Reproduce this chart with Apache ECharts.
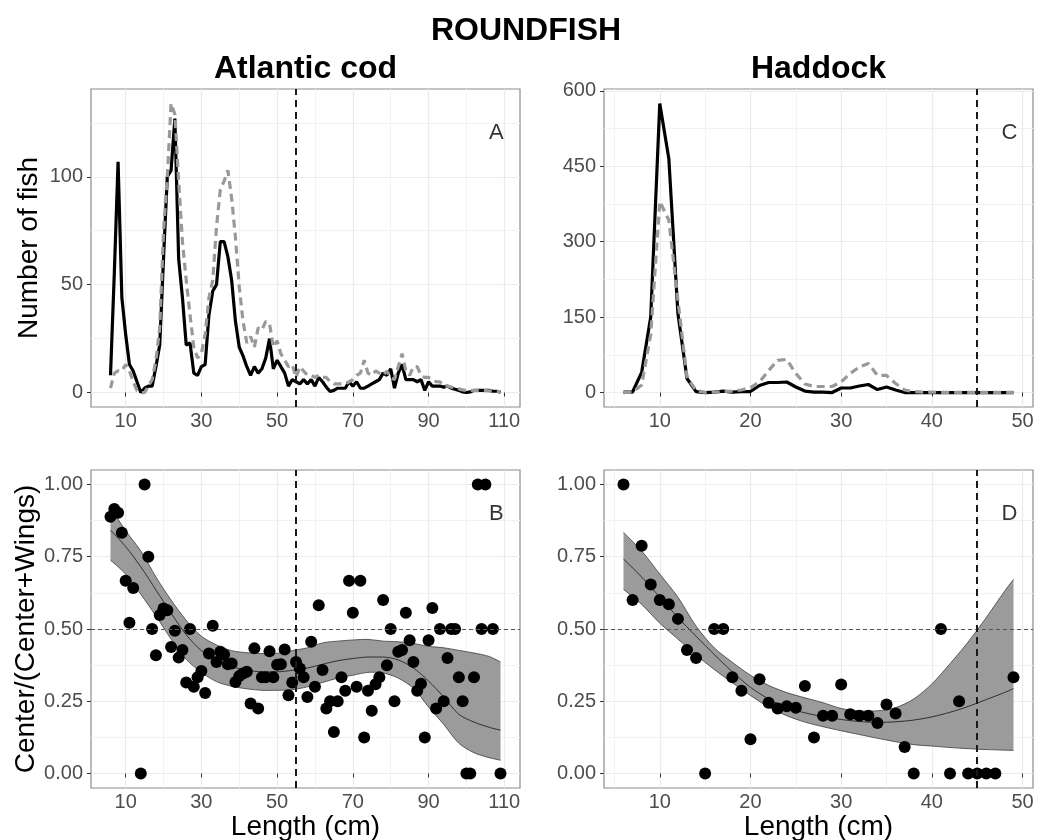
<!DOCTYPE html>
<html><head><meta charset="utf-8">
<script src="https://cdn.jsdelivr.net/npm/echarts@6/dist/echarts.min.js"></script>
<style>html,body{margin:0;padding:0;background:#fff}#c{width:1048px;height:840px}</style>
</head><body><div id="c"></div>
<script>
// ---------------- DATA ----------------
const codLengths = [6,7,8,9,10,11,12,13,14,15,16,17,18,19,20,21,22,23,24,25,26,27,28,29,30,31,32,33,34,35,36,37,38,39,40,41,42,43,44,45,46,47,48,49,50,51,52,53,54,55,56,57,58,59,60,61,62,63,64,65,66,67,68,69,70,71,72,73,74,75,76,77,78,79,80,81,82,83,84,85,86,87,88,89,90,91,92,93,94,95,96,97,98,99,100,101,102,103,104,105,106,107,108,109];
const codCenterCatch = [8,55,107,44,27,13,10,5,0,2, 3,3,12,22,62,100,103,127,62,44, 22,23,9,8,12,13,36,47,50,70, 70,63,52,33,21,17,12,8,12,9, 11,16,25,11,15,12,9,3,6,5, 4,6,4,6,3,7,5,2.5,0.5,1, 2,2,2,5,3,5,2,2,3,4, 5,6,9,8,11,2,9,13,6,6, 6,5,6,1,5,3,3,3,2.5,3, 2,1.5,1,0.3,0,0.3,1,1,1,1, 1,0.6,0.6,0.2];
const codWingCatch = [2,9,10,10,13,10,5,1,0,0, 3,6,15,30,75,100,134,129,98,70, 52,36,21,16,18,27,44,52,77,94, 98,103,90,72,49,33,23,26,21,30, 29,33,32,21,24,18,15,12,13,7, 12,10,8,8,7,8,7,7,5,4, 4,4,4,5,6,8,9,15,9,8, 10,9,8,10,7,6,12,18,10,8, 12,12,8,7,7,6,5,5,3,3, 2.5,2,1.7,1.2,1,1,0.9,0.9,0.9,0.9, 0.8,0.7,0.6,0.3];

const hadLengths = [6,7,8,9,10,11,12,13,14,15,16,17,18,19,20,21,22,23,24,25,26,27,28,29,30,31,32,33,34,35,36,37,38,39,40,41,42,43,44,45,46,47,48,49];
const hadCenterCatch = [1,1,40,150,575,465,157,28,2,0, 1,3,1,2,2,14,20,20,21,11, 3,1,1,0,9,9,13,16,6,11, 5,0,0,0,0,0,0,0,0,0, 0,0,0,0];
const hadWingCatch = [0,1,15,115,380,343,184,31,4,0, 1,2,3,5,10,21,44,64,66,38, 17,12,12,12,21,38,51,58,34,34, 18,5,2,1,1,0.5,0.5,0.5,0.5,0.5, 0.5,0.5,0.5,0.5];

const codRatioLengths = [6,7,8,9,10,11,12,14,15,16,17,18,19,20,21,22,23,24,25,26,27,28,29,30,31,32,33,34,35,36,37,38,39,40,41,42,43,44,45,46,47,48,49,50,51,52,53,54,55,56,57,58,59,60,61,62,63,64,65,66,67,68,69,70,71,72,73,74,75,76,77,78,79,80,81,82,83,84,85,86,87,88,89,90,91,92,93,94,95,96,97,98,99,100,101,102,103,104,105,107,109];
const codRatioValues = [0.888,0.915,0.902,0.833,0.667,0.522,0.642,0,1,0.75,0.5,0.409,0.548,0.571,0.565,0.438,0.494,0.401,0.427,0.315,0.5,0.3,0.333,0.355,0.279,0.415,0.511,0.386,0.421,0.412,0.378,0.381,0.317,0.337,0.346,0.352,0.242,0.433,0.225,0.333,0.333,0.423,0.333,0.376,0.378,0.429,0.271,0.315,0.386,0.363,0.333,0.265,0.456,0.3,0.582,0.358,0.225,0.25,0.144,0.25,0.333,0.286,0.667,0.556,0.3,0.667,0.125,0.286,0.217,0.309,0.333,0.6,0.375,0.5,0.25,0.421,0.427,0.556,0.461,0.386,0.286,0.311,0.125,0.461,0.573,0.225,0.5,0.25,0.4,0.5,0.5,0.333,0.25,0,0,0.333,1,0.5,1,0.5,0];

const hadRatioLengths = [6,7,8,9,10,11,12,13,14,15,16,17,18,19,20,21,22,23,24,25,26,27,28,29,30,31,32,33,34,35,36,37,38,41,42,43,44,45,46,47,49];
const hadRatioValues = [1,0.6,0.788,0.654,0.6,0.586,0.535,0.427,0.4,0,0.5,0.5,0.333,0.286,0.119,0.326,0.245,0.225,0.233,0.228,0.303,0.125,0.2,0.2,0.308,0.205,0.2,0.2,0.175,0.239,0.208,0.092,0,0.5,0,0.25,0,0,0,0,0.333];

const codFitLengths = [6,10,14,18,22,26,30,34,38,42,46,50,54,58,62,66,70,74,78,82,86,90,94,98,102,106,109];
const codFitMid  = [0.842,0.785,0.715,0.635,0.555,0.48,0.425,0.39,0.37,0.358,0.352,0.352,0.357,0.365,0.378,0.39,0.398,0.403,0.403,0.393,0.365,0.32,0.265,0.205,0.178,0.16,0.15];
const codFitLow  = [0.738,0.69,0.62,0.545,0.465,0.395,0.35,0.318,0.302,0.293,0.288,0.288,0.29,0.3,0.315,0.33,0.34,0.35,0.348,0.33,0.295,0.23,0.17,0.105,0.072,0.055,0.046];
const codFitHigh = [0.92,0.84,0.77,0.68,0.6,0.53,0.475,0.445,0.425,0.418,0.415,0.416,0.425,0.435,0.452,0.458,0.462,0.464,0.458,0.456,0.45,0.44,0.435,0.426,0.417,0.405,0.386];

const hadFitLengths = [6,8,10,12,14,16,18,20,22,24,26,28,30,32,34,36,38,40,42,44,46,48,49];
const hadFitMid  = [0.742,0.68,0.61,0.54,0.475,0.412,0.352,0.298,0.258,0.228,0.21,0.197,0.187,0.18,0.177,0.179,0.185,0.196,0.212,0.232,0.256,0.28,0.294];
const hadFitLow  = [0.637,0.585,0.52,0.465,0.41,0.36,0.314,0.27,0.23,0.2,0.178,0.162,0.148,0.135,0.122,0.11,0.1,0.095,0.09,0.086,0.083,0.081,0.08];
const hadFitHigh = [0.834,0.77,0.69,0.61,0.51,0.435,0.385,0.34,0.305,0.28,0.262,0.245,0.225,0.217,0.217,0.228,0.258,0.31,0.38,0.455,0.54,0.63,0.672];

const codXTicks = [10,30,50,70,90,110];
const codXMinor = [20,40,60,80,100];
const hadXTicks = [10,20,30,40,50];
const hadXMinor = [5,15,25,35,45];
const codCountTicks = [0,50,100];
const codCountMinor = [25,75,125];
const hadCountTicks = [0,150,300,450,600];
const hadCountMinor = [75,225,375,525];
const ratioTicks = [0,0.25,0.5,0.75,1];
const ratioMinor = [0.125,0.375,0.625,0.875];
const codThreshold = 55;
const hadThreshold = 45;
const ratioReference = 0.5;
const panelLetters = ['A','C','B','D'];

// ---------------- HELPERS ----------------
const FONT = 'Liberation Sans, Arial, Helvetica, sans-serif';
const pairs = (xs, ys) => xs.map((x, i) => [x, ys[i]]);
function expand(lo, hi) { const r = hi - lo; return [lo - 0.05 * r, hi + 0.05 * r]; }
const codX = expand(Math.min(...codLengths, ...codRatioLengths), Math.max(...codLengths, ...codRatioLengths));
const hadX = expand(Math.min(...hadLengths, ...hadRatioLengths), Math.max(...hadLengths, ...hadRatioLengths));
const codY = expand(0, Math.max(...codCenterCatch, ...codWingCatch));
const hadY = expand(0, Math.max(...hadCenterCatch, ...hadWingCatch));
const ratioY = expand(0, 1);

const grids = [
  {left: 91, top: 89, width: 429, height: 318},
  {left: 604, top: 89, width: 429, height: 318},
  {left: 91, top: 470, width: 429, height: 318},
  {left: 604, top: 470, width: 429, height: 318}
].map(g => Object.assign(g, {show: true, borderColor: '#8c8c8c', borderWidth: 1.2, backgroundColor: '#fff', containLabel: false, outerBoundsMode: 'none'}));

const xExt = [codX, hadX, codX, hadX];
const yExt = [codY, hadY, ratioY, ratioY];
const xMaj = [codXTicks, hadXTicks, codXTicks, hadXTicks];
const xMin = [codXMinor, hadXMinor, codXMinor, hadXMinor];
const yMaj = [codCountTicks, hadCountTicks, ratioTicks, ratioTicks];
const yMin = [codCountMinor, hadCountMinor, ratioMinor, ratioMinor];
const yFmt = [v => String(v), v => String(v), v => v.toFixed(2), v => v.toFixed(2)];
const yNames = ['Number of fish', '', 'Center/(Center+Wings)', ''];
const xNames = ['', '', 'Length (cm)', 'Length (cm)'];

const xAxis = [], yAxis = [];
for (let g = 0; g < 4; g++) {
  xAxis.push({
    type: 'value', gridIndex: g, min: xExt[g][0], max: xExt[g][1],
    axisLine: {show: false},
    axisTick: {show: true, customValues: xMaj[g], length: 4, lineStyle: {color: '#333', width: 1}},
    axisLabel: {customValues: xMaj[g], color: '#4d4d4d', fontSize: 20, fontFamily: FONT, margin: 4},
    splitLine: {show: true, lineStyle: {color: '#ebebeb', width: 1.2}},
    name: xNames[g], nameLocation: 'middle', nameGap: 25,
    nameTextStyle: {color: '#000', fontSize: 28, fontFamily: FONT}
  });
  xAxis.push({
    type: 'value', gridIndex: g, min: xExt[g][0], max: xExt[g][1],
    axisLine: {show: false}, axisTick: {show: false, customValues: xMin[g]},
    axisLabel: {show: false, customValues: xMin[g]},
    splitLine: {show: true, lineStyle: {color: '#f2f2f2', width: 1}}
  });
  yAxis.push({
    type: 'value', gridIndex: g, min: yExt[g][0], max: yExt[g][1],
    axisLine: {show: false},
    axisTick: {show: true, customValues: yMaj[g], length: 4, lineStyle: {color: '#333', width: 1}},
    axisLabel: {customValues: yMaj[g], color: '#4d4d4d', fontSize: 20, fontFamily: FONT, margin: 8, formatter: yFmt[g]},
    splitLine: {show: true, lineStyle: {color: '#ebebeb', width: 1.2}},
    name: yNames[g], nameLocation: 'middle', nameGap: 48, nameRotate: 90,
    nameTextStyle: {color: '#000', fontSize: 28, fontFamily: FONT}
  });
  yAxis.push({
    type: 'value', gridIndex: g, min: yExt[g][0], max: yExt[g][1],
    axisLine: {show: false}, axisTick: {show: false, customValues: yMin[g]},
    axisLabel: {show: false, customValues: yMin[g]},
    splitLine: {show: true, lineStyle: {color: '#f2f2f2', width: 1}}
  });
}

const vLine = v => ({xAxis: v, lineStyle: {type: [7, 5], color: '#1a1a1a', width: 2}});
const hLine = v => ({yAxis: v, lineStyle: {type: [4, 3], color: '#555', width: 1.1}});
function refLines(items) {
  return {symbol: 'none', silent: true, label: {show: false}, data: items};
}

const series = [];
function countPanel(g, xs, center, wing, thr) {
  const ax = 2 * g;
  series.push({type: 'line', xAxisIndex: ax, yAxisIndex: ax, data: pairs(xs, center), symbol: 'none',
    lineStyle: {color: '#000', width: 3.2}, z: 3, silent: true});
  series.push({type: 'line', xAxisIndex: ax, yAxisIndex: ax, data: pairs(xs, wing), symbol: 'none',
    lineStyle: {color: '#999999', width: 3.2, type: [8, 5]}, z: 4, silent: true,
    markLine: refLines([vLine(thr)])});
}
const SMOOTH = 0.3;
function ratioPanel(g, fx, lo, mid, hi, px, pv, thr) {
  const ax = 2 * g;
  // confidence band drawn through the axis scales (api.coord)
  series.push({
    type: 'custom', xAxisIndex: ax, yAxisIndex: ax, silent: true, z: 2,
    data: fx.map((x, i) => [x, lo[i], hi[i]]),
    encode: {x: 0, y: [1, 2]},
    renderItem: function (params, api) {
      if (params.dataIndex !== 0) return null;
      const up = [], dn = [];
      for (let i = 0; i < fx.length; i++) {
        up.push(api.coord([api.value(0, i), api.value(2, i)]));
        dn.push(api.coord([api.value(0, i), api.value(1, i)]));
      }
      const n = up.length;
      const rdn = dn.slice().reverse();
      // corner points doubled so the band ends stay straight vertical edges
      const poly = [up[0]].concat(up, [up[n - 1]], [rdn[0]], rdn, [rdn[n - 1]]);
      return {type: 'group', children: [
        {type: 'polygon', shape: {points: poly, smooth: SMOOTH}, style: {fill: '#9b9b9b', stroke: null}},
        {type: 'polyline', shape: {points: up, smooth: SMOOTH}, style: {fill: null, stroke: '#3c3c3c', lineWidth: 0.8}},
        {type: 'polyline', shape: {points: dn, smooth: SMOOTH}, style: {fill: null, stroke: '#3c3c3c', lineWidth: 0.8}}
      ]};
    }
  });
  series.push({type: 'line', xAxisIndex: ax, yAxisIndex: ax, data: pairs(fx, mid), symbol: 'none',
    smooth: SMOOTH, lineStyle: {color: '#222', width: 0.9}, z: 3, silent: true});
  series.push({type: 'scatter', xAxisIndex: ax, yAxisIndex: ax, data: pairs(px, pv), symbol: 'circle', symbolSize: 12,
    itemStyle: {color: '#000', opacity: 1}, z: 4, silent: true,
    markLine: refLines([hLine(ratioReference), vLine(thr)])});
}
countPanel(0, codLengths, codCenterCatch, codWingCatch, codThreshold);
countPanel(1, hadLengths, hadCenterCatch, hadWingCatch, hadThreshold);
ratioPanel(2, codFitLengths, codFitLow, codFitMid, codFitHigh, codRatioLengths, codRatioValues, codThreshold);
ratioPanel(3, hadFitLengths, hadFitLow, hadFitMid, hadFitHigh, hadRatioLengths, hadRatioValues, hadThreshold);

// panel letters, placed in each panel's data space
for (let g = 0; g < 4; g++) {
  const xe = xExt[g], ye = yExt[g];
  const lx = xe[0] + 0.945 * (xe[1] - xe[0]);
  const ly = ye[0] + 0.862 * (ye[1] - ye[0]);
  series.push({type: 'scatter', xAxisIndex: 2 * g, yAxisIndex: 2 * g, data: [[lx, ly]], symbolSize: 1,
    itemStyle: {color: 'rgba(0,0,0,0)'}, z: 6, silent: true,
    label: {show: true, position: 'inside', formatter: panelLetters[g], color: '#000', fontSize: 22, fontFamily: FONT}});
}

const titleStyle = {color: '#000', fontSize: 32, fontWeight: 'bold', fontFamily: FONT};
const option = {
  animation: false,
  backgroundColor: '#fff',
  title: [
    {text: 'ROUNDFISH', left: 526, top: 15, textAlign: 'center', padding: 0, textStyle: titleStyle},
    {text: 'Atlantic cod', left: 305.5, top: 53, textAlign: 'center', padding: 0, textStyle: titleStyle},
    {text: 'Haddock', left: 818.5, top: 53, textAlign: 'center', padding: 0, textStyle: titleStyle}
  ],
  grid: grids, xAxis: xAxis, yAxis: yAxis, series: series
};
const chart = echarts.init(document.getElementById('c'), null, {renderer: 'canvas'});
chart.setOption(option);
</script></body></html>
